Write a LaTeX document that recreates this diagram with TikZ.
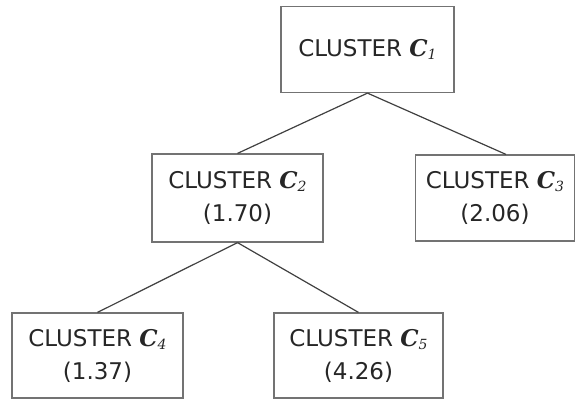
\documentclass[tikz,border=0pt]{standalone}
\usepackage{fontspec}
\setmainfont{DejaVu Sans}
\newfontfamily\cserif{DejaVu Serif}
\usepackage{xcolor}
\usepackage{tikz}

\newcommand{\clname}[1]{{\cserif\itshape\bfseries C}\raisebox{-3pt}{\cserif\itshape\fontsize{14}{14}\selectfont #1}}

\tikzset{
  cbox/.style={draw=black!55, line width=1.2pt, align=center, inner sep=0pt,
    minimum height=86pt, text=black!85,
    font=\fontsize{23}{33}\selectfont},
  clink/.style={draw=black!75, line width=1.2pt}
}

\begin{document}
\begin{tikzpicture}[x=1pt,y=-1pt]
\useasboundingbox (0,0) rectangle (576,400);
% 节点定义
\node[cbox, minimum width=173pt] (c1) at (367.5,49.5) {CLUSTER \clname{1}};
\node[cbox, minimum width=171pt, minimum height=88pt] (c2) at (237.5,198) {CLUSTER \clname{2}\\(1.70)};
\node[cbox, minimum width=159pt] (c3) at (495,198) {CLUSTER \clname{3}\\(2.06)};
\node[cbox, minimum width=171pt, minimum height=85pt] (c4) at (97.5,355.5) {CLUSTER \clname{4}\\(1.37)};
\node[cbox, minimum width=169pt, minimum height=85pt] (c5) at (358.5,355.5) {CLUSTER \clname{5}\\(4.26)};
% 连线
\draw[clink] (c1.south)--(c2.north);
\draw[clink] (c1.south)--([xshift=11pt]c3.north);
\draw[clink] (c2.south)--(c4.north);
\draw[clink] (c2.south)--(c5.north);
\end{tikzpicture}
\end{document}
